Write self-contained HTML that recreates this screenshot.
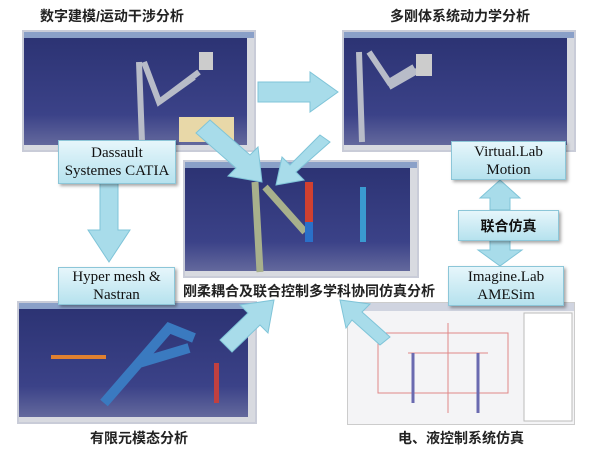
<!DOCTYPE html>
<html><head><meta charset="utf-8"><style>
body{margin:0;width:600px;height:453px;background:#fff;position:relative;overflow:hidden;font-family:"Liberation Serif","Noto Serif CJK SC",serif}
.a{position:absolute}
.scr{position:absolute;background:linear-gradient(#2b3272,#3b4288 70%,#6a6fa0);border:2px solid #c9ccd8;box-sizing:border-box}
.scr .tb{position:absolute;left:0;right:0;top:0;height:6px;background:#8aa0c8}
.scr .bb{position:absolute;left:0;right:0;bottom:0;height:5px;background:#d8dae0}
.scr .rb{position:absolute;top:6px;bottom:5px;right:0;width:7px;background:#d8dae0}
.lbl{position:absolute;font-family:"Liberation Sans","Noto Sans CJK SC",sans-serif;font-size:14px;font-weight:bold;color:#222;white-space:nowrap}
.box{position:absolute;background:linear-gradient(#e6f6fb,#b6e2ee);border:1px solid #8cc6d8;box-shadow:2px 2px 3px rgba(0,0,0,.35);text-align:center;font-size:15px;line-height:18px;color:#111;display:flex;align-items:center;justify-content:center}
</style></head><body>
<div class="lbl" style="left:40px;top:6px">数字建模/运动干涉分析</div>
<div class="lbl" style="left:390px;top:6px">多刚体系统动力学分析</div>
<div class="scr" style="left:22px;top:30px;width:234px;height:122px"><div class="tb"></div><div class="bb"></div><div class="rb"></div>
<svg class="a" style="left:0;top:0" width="230" height="118"><path d="M115 30 L118 110 M120 30 L135 70 L175 40 M135 70 L170 45" stroke="#b8bcc8" stroke-width="6" fill="none"/><rect x="175" y="20" width="14" height="18" fill="#ccc"/><rect x="155" y="85" width="55" height="25" fill="#e8d8a8"/></svg></div>
<div class="scr" style="left:342px;top:30px;width:234px;height:122px"><div class="tb"></div><div class="bb"></div><div class="rb"></div>
<svg class="a" style="left:0;top:0" width="230" height="118"><path d="M15 20 L18 110 M25 20 L45 50 L70 35 M45 55 L80 35" stroke="#b8bcc8" stroke-width="6" fill="none"/><rect x="72" y="22" width="16" height="22" fill="#ccc"/></svg></div>
<div class="scr" style="left:183px;top:160px;width:236px;height:118px"><div class="tb"></div><div class="bb"></div><div class="rb"></div>
<svg class="a" style="left:0;top:0" width="230" height="114"><path d="M70 20 L75 110 M80 25 L120 70" stroke="#a8b08c" stroke-width="7" fill="none"/><rect x="120" y="20" width="8" height="40" fill="#d04030"/><rect x="120" y="60" width="8" height="20" fill="#2a70c8"/><rect x="175" y="25" width="6" height="55" fill="#3a9ad0"/></svg></div>
<div class="scr" style="left:17px;top:301px;width:240px;height:123px"><div class="tb"></div><div class="bb"></div><div class="rb"></div>
<svg class="a" style="left:0;top:0" width="236" height="119"><path d="M85 100 L150 25 L175 35 M120 60 L170 45" stroke="#3a7ac0" stroke-width="10" fill="none"/><rect x="195" y="60" width="5" height="40" fill="#c04040"/><rect x="32" y="52" width="55" height="4" fill="#e08030"/></svg></div>
<div class="a" style="left:347px;top:302px;width:226px;height:121px;background:#f4f4f6;border:1px solid #ccc">
<svg class="a" style="left:0;top:0" width="226" height="121"><rect x="0" y="0" width="226" height="8" fill="#d0d4e0"/><rect x="176" y="10" width="48" height="108" fill="#fff" stroke="#bbb"/><path d="M30 30 H160 V90 H30Z M60 50 H140 M100 20 V110" stroke="#e08888" fill="none"/><path d="M65 50 V100 M130 50 V110" stroke="#6a6ab0" stroke-width="3" fill="none"/></svg></div>
<svg class="a" style="left:0;top:0" width="600" height="453">
<g fill="#a8dcea" stroke="#7fc4d8" stroke-width="1">
<path d="M258 82 H310 V72 L338 92 L310 112 V102 H258Z"/>
<path d="M210 120 L250 155 L258 147 L262 182 L228 176 L236 168 L196 133Z"/>
<path d="M320 135 L290 165 L282 157 L276 185 L304 180 L296 172 L330 142Z"/>
<path d="M100 182 H118 V230 H130 L109 262 L88 230 H100Z"/>
<path d="M220 340 L248 313 L240 305 L274 300 L268 333 L260 325 L232 352Z"/>
<path d="M380 345 L352 320 L346 328 L340 300 L370 304 L362 312 L390 337Z"/>
<path d="M500 180 L520 198 H510 V210 H490 V198 H480Z"/>
<path d="M490 240 H510 V250 H522 L500 266 L478 250 H490Z"/>
</g></svg>
<div class="box" style="left:58px;top:140px;width:116px;height:42px">Dassault<br>Systemes CATIA</div>
<div class="box" style="left:451px;top:141px;width:113px;height:37px">Virtual.Lab<br>Motion</div>
<div class="box" style="left:458px;top:210px;width:99px;height:29px;font-family:'Liberation Sans','Noto Sans CJK SC',sans-serif;font-weight:bold;font-size:14px">联合仿真</div>
<div class="box" style="left:58px;top:267px;width:115px;height:36px">Hyper mesh &amp;<br>Nastran</div>
<div class="box" style="left:448px;top:266px;width:114px;height:38px">Imagine.Lab<br>AMESim</div>
<div class="lbl" style="left:183px;top:281px">刚柔耦合及联合控制多学科协同仿真分析</div>
<div class="lbl" style="left:90px;top:428px">有限元模态分析</div>
<div class="lbl" style="left:398px;top:428px">电、液控制系统仿真</div>
</body></html>
